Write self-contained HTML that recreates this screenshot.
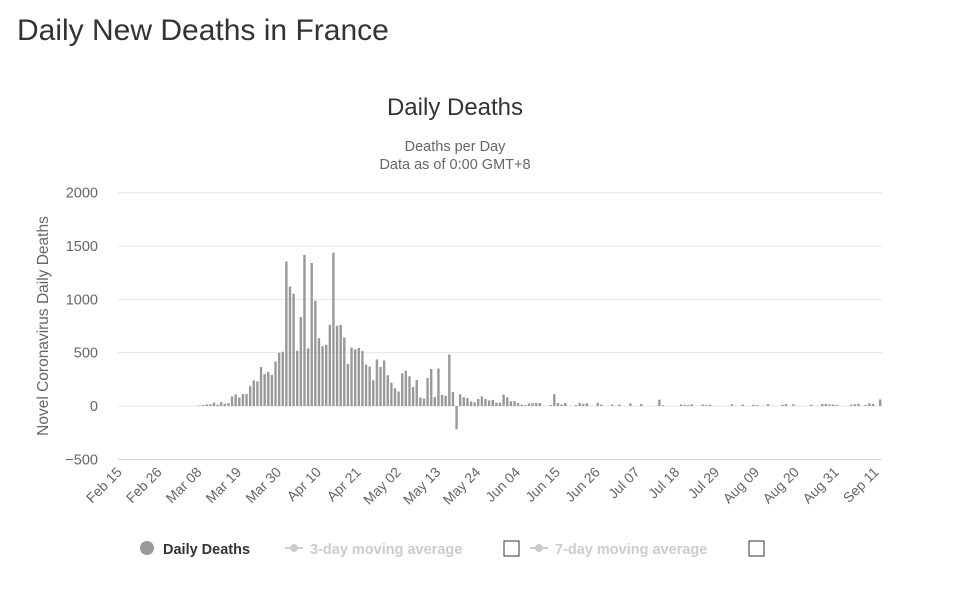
<!DOCTYPE html>
<html><head><meta charset="utf-8"><style>
body{margin:0;background:#fff;width:965px;height:608px;overflow:hidden;font-family:"Liberation Sans",sans-serif}
h1{position:absolute;left:17px;top:14px;margin:0;font-weight:normal;font-size:30px;color:#333}
svg{position:absolute;left:0;top:0}
</style></head><body>
<h1>Daily New Deaths in France</h1>
<svg id="c" width="965" height="608">
<text x="455" y="115" text-anchor="middle" font-size="24" fill="#333">Daily Deaths</text>
<text x="455" y="151" text-anchor="middle" font-size="14.5" fill="#666">Deaths per Day</text>
<text x="455" y="169" text-anchor="middle" font-size="14.5" fill="#666">Data as of 0:00 GMT+8</text>
<text transform="translate(48,326) rotate(-90)" text-anchor="middle" font-size="15.5" fill="#666">Novel Coronavirus Daily Deaths</text>
<g id="grid"></g><g id="bars"></g><g id="xl"></g>
<g>
<g><circle cx="147" cy="548" r="7" fill="#999"/><text x="163" y="554" font-size="14.5" font-weight="bold" fill="#333">Daily Deaths</text></g>
<g><line x1="285" y1="548" x2="303" y2="548" stroke="#ccc" stroke-width="2"/><circle cx="294" cy="548" r="4" fill="#ccc"/><text x="310" y="554" font-size="14.5" font-weight="bold" fill="#ccc">3-day moving average</text></g>
<rect x="504" y="541" width="15" height="15" fill="#fff" stroke="#333"/>
<g><line x1="530" y1="548" x2="548" y2="548" stroke="#ccc" stroke-width="2"/><circle cx="539" cy="548" r="4" fill="#ccc"/><text x="555" y="554" font-size="14.5" font-weight="bold" fill="#ccc">7-day moving average</text></g>
<rect x="749" y="541" width="15" height="15" fill="#fff" stroke="#333"/>
</g>
</svg>
<script>
const yTicks=[-500,0,500,1000,1500,2000];
const xTickLabels=["Feb 15","Feb 26","Mar 08","Mar 19","Mar 30","Apr 10","Apr 21","May 02","May 13","May 24","Jun 04","Jun 15","Jun 26","Jul 07","Jul 18","Jul 29","Aug 09","Aug 20","Aug 31","Sep 11"];
const deathsFebMar8=[0,0,0,0,0,0,0,0,0,0,0,0,0,0,0,1,0,0,0,0,0,0];
const deathsMar=[5,10,15,15,30,12,36,21,27,89,108,78,112,112,186,240,231,365,299,319,292,418,499];
const deathsApr=[509,1355,1120,1053,518,833,1417,541,1341,987,635,561,574,762,1438,753,761,642,395,547,531,544,516,389,369,242,437,367,427,289];
const deathsMay=[218,166,135,306,330,278,178,243,80,70,263,348,83,351,104,96,483,131,-217,110,83,74,43,35,65,90,66,52,57,31,31];
const deathsJun=[107,81,44,46,27,13,9,23,27,29,28,0,0,10,111,28,14,28,0,0,9,29,20,26,0,0,30,14,0,0];
const deathsJul=[14,0,14,0,0,25,0,0,18,0,0,0,0,60,8,0,0,0,0,14,11,10,16,0,0,14,9,12,2,0,0];
const deathsAug=[0,0,15,0,0,14,0,0,12,9,0,0,17,0,0,0,11,18,0,16,0,0,0,0,12,0,0,19,20,16,14];
const deathsSep=[9,0,0,0,12,16,20,0,10,25,20,0,62];
const values=[].concat(deathsFebMar8,deathsMar,deathsApr,deathsMay,deathsJun,deathsJul,deathsAug,deathsSep);
const NS="http://www.w3.org/2000/svg";
const X0=118,X1=882,Y0=406,PX=213.3/2000;
const step=(X1-X0)/values.length;
const xs=i=>X0+i*step+step/2, ys=v=>Y0-v*PX;
const g=document.getElementById('grid');
yTicks.forEach(t=>{
 const l=document.createElementNS(NS,'line');
 l.setAttribute('x1',X0);l.setAttribute('x2',X1);l.setAttribute('y1',ys(t));l.setAttribute('y2',ys(t));
 l.setAttribute('stroke',t===-500?'#ccd6eb':'#e6e6e6');
 
 
 g.appendChild(l);
 const tx=document.createElementNS(NS,'text');
 tx.setAttribute('x',98);tx.setAttribute('y',ys(t)+5);tx.setAttribute('text-anchor','end');
 tx.setAttribute('font-size','14.5');tx.setAttribute('fill','#666');tx.textContent=t===-500?'\u2212500':t;
 
 
 g.appendChild(tx);
});
const b=document.getElementById('bars');
values.forEach((v,i)=>{
 const r=document.createElementNS(NS,'rect');
 r.setAttribute('x',xs(i)-1.2);r.setAttribute('width',2.4);
 r.setAttribute('y',Math.min(ys(v),Y0));r.setAttribute('height',Math.abs(ys(v)-Y0));
 r.setAttribute('fill','#999');
 
 
 b.appendChild(r);
});
const xl=document.getElementById('xl');
xTickLabels.forEach((s,k)=>{
 const x=xs(k*11);
 const t=document.createElementNS(NS,'text');
 t.setAttribute('transform','translate('+(x+3)+',473) rotate(-45)');
 t.setAttribute('text-anchor','end');t.setAttribute('font-size','14');t.setAttribute('fill','#666');
 t.textContent=s;
 
 
 xl.appendChild(t);
});
</script>
</body></html>
